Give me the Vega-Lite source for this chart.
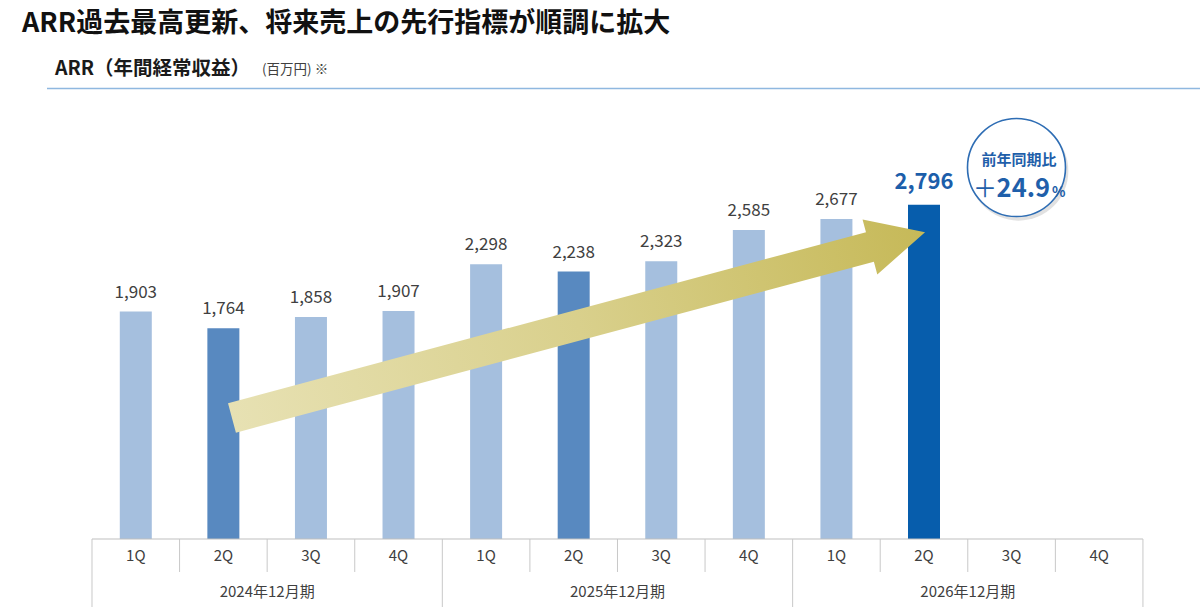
{
  "$schema": "https://vega.github.io/schema/vega-lite/v6.json",
  "description": "ARR by quarter, FY2024-FY2026, with the year-on-year growth badge",
  "width": 1153,
  "height": 523,
  "autosize": {"type": "none"},
  "padding": {"left": 47, "top": 87, "right": 0, "bottom": 0},
  "background": "white",
  "title": {
    "text": "ARR過去最高更新、将来売上の先行指標が順調に拡大",
    "anchor": "start",
    "frame": "group",
    "dx": -25,
    "offset": 21,
    "font": "Noto Sans CJK JP",
    "fontSize": 27,
    "fontWeight": "bold",
    "color": "#111111"
  },
  "config": {
    "view": {"stroke": null},
    "axis": {"disable": true},
    "font": "Noto Sans CJK JP"
  },
  "data": {
    "values": [
      {"period": "2024年12月期", "q": "1Q", "seq": 1, "arr": 1903},
      {"period": "2024年12月期", "q": "2Q", "seq": 2, "arr": 1764},
      {"period": "2024年12月期", "q": "3Q", "seq": 3, "arr": 1858},
      {"period": "2024年12月期", "q": "4Q", "seq": 4, "arr": 1907},
      {"period": "2025年12月期", "q": "1Q", "seq": 5, "arr": 2298},
      {"period": "2025年12月期", "q": "2Q", "seq": 6, "arr": 2238},
      {"period": "2025年12月期", "q": "3Q", "seq": 7, "arr": 2323},
      {"period": "2025年12月期", "q": "4Q", "seq": 8, "arr": 2585},
      {"period": "2026年12月期", "q": "1Q", "seq": 9, "arr": 2677},
      {"period": "2026年12月期", "q": "2Q", "seq": 10, "arr": 2796},
      {"period": "2026年12月期", "q": "3Q", "seq": 11, "arr": null},
      {"period": "2026年12月期", "q": "4Q", "seq": 12, "arr": null}
    ]
  },
  "layer": [
    {
      "data": {"values": [{}]},
      "mark": {"type": "rule", "color": "#8FB8E0", "strokeWidth": 1.5},
      "encoding": {
        "y": {"datum": 3770, "scale": {"domain": [-594, 3782], "nice": false, "zero": false, "padding": 0}}
      }
    },
    {
      "transform": [{"filter": "isValid(datum.arr)"}],
      "mark": {"type": "bar", "width": 32},
      "encoding": {
        "x": {"field": "seq", "type": "quantitative", "scale": {"domain": [-0.0138, 13.1514], "nice": false, "zero": false, "padding": 0}},
        "y": {"field": "arr", "type": "quantitative", "scale": {"domain": [-594, 3782], "nice": false, "zero": false, "padding": 0}},
        "color": {
          "condition": [
            {"test": "datum.period === '2026年12月期' && datum.q === '2Q'", "value": "#075DAC"},
            {"test": "datum.q === '2Q'", "value": "#5889C0"}
          ],
          "value": "#A5BFDE"
        }
      }
    },
    {
      "transform": [{"filter": "isValid(datum.arr) && !(datum.period === '2026年12月期' && datum.q === '2Q')"}],
      "mark": {"type": "text", "baseline": "alphabetic", "dy": -14, "fontSize": 17, "color": "#404040"},
      "encoding": {
        "x": {"field": "seq", "type": "quantitative", "scale": {"domain": [-0.0138, 13.1514], "nice": false, "zero": false, "padding": 0}},
        "y": {"field": "arr", "type": "quantitative", "scale": {"domain": [-594, 3782], "nice": false, "zero": false, "padding": 0}},
        "text": {"field": "arr", "type": "quantitative", "format": ","}
      }
    },
    {
      "transform": [{"filter": "datum.period === '2026年12月期' && datum.q === '2Q'"}],
      "mark": {"type": "text", "baseline": "alphabetic", "dy": -16, "fontSize": 22, "fontWeight": "bold", "color": "#1C5EAA"},
      "encoding": {
        "x": {"field": "seq", "type": "quantitative", "scale": {"domain": [-0.0138, 13.1514], "nice": false, "zero": false, "padding": 0}},
        "y": {"field": "arr", "type": "quantitative", "scale": {"domain": [-594, 3782], "nice": false, "zero": false, "padding": 0}},
        "text": {"field": "arr", "type": "quantitative", "format": ","}
      }
    },
    {
      "data": {"values": [{}]},
      "mark": {
        "type": "point",
        "filled": true,
        "opacity": 1,
        "strokeWidth": 0,
        "shape": "M-1,-0.0426L0.841,-0.0426L0.841,-0.0794L1,0L0.841,0.0794L0.841,0.0426L-1,0.0426Z",
        "size": 514806,
        "angle": 345,
        "fill": {
          "gradient": "linear",
          "x1": 0, "y1": 0, "x2": 1, "y2": 0,
          "stops": [
            {"offset": 0, "color": "#E7E1B3"},
            {"offset": 0.5, "color": "#D9D08C"},
            {"offset": 1, "color": "#C6B958"}
          ]
        }
      },
      "encoding": {
        "x": {"datum": 6.055, "scale": {"domain": [-0.0138, 13.1514], "nice": false, "zero": false, "padding": 0}},
        "y": {"datum": 1790, "scale": {"domain": [-594, 3782], "nice": false, "zero": false, "padding": 0}}
      }
    },
    {
      "data": {"values": [{}]},
      "mark": {"type": "rule", "color": "#BFBFBF", "strokeWidth": 1},
      "encoding": {
        "x": {"datum": 0.5, "scale": {"domain": [-0.0138, 13.1514], "nice": false, "zero": false, "padding": 0}},
        "x2": {"datum": 12.5},
        "y": {"datum": 0, "scale": {"domain": [-594, 3782], "nice": false, "zero": false, "padding": 0}}
      }
    },
    {
      "transform": [
        {"filter": "datum.q !== '1Q'"},
        {"calculate": "datum.seq - 0.5", "as": "edge"}
      ],
      "mark": {"type": "rule", "color": "#C8C8C8", "strokeWidth": 1},
      "encoding": {
        "x": {"field": "edge", "type": "quantitative", "scale": {"domain": [-0.0138, 13.1514], "nice": false, "zero": false, "padding": 0}},
        "y": {"datum": 0, "scale": {"domain": [-594, 3782], "nice": false, "zero": false, "padding": 0}},
        "y2": {"datum": -276}
      }
    },
    {
      "transform": [
        {"filter": "datum.q === '1Q'"},
        {"calculate": "datum.seq - 0.5", "as": "edge"}
      ],
      "mark": {"type": "rule", "color": "#C8C8C8", "strokeWidth": 1},
      "encoding": {
        "x": {"field": "edge", "type": "quantitative", "scale": {"domain": [-0.0138, 13.1514], "nice": false, "zero": false, "padding": 0}},
        "y": {"datum": 0, "scale": {"domain": [-594, 3782], "nice": false, "zero": false, "padding": 0}},
        "y2": {"datum": -569}
      }
    },
    {
      "data": {"values": [{}]},
      "mark": {"type": "rule", "color": "#C8C8C8", "strokeWidth": 1},
      "encoding": {
        "x": {"datum": 12.5, "scale": {"domain": [-0.0138, 13.1514], "nice": false, "zero": false, "padding": 0}},
        "y": {"datum": 0, "scale": {"domain": [-594, 3782], "nice": false, "zero": false, "padding": 0}},
        "y2": {"datum": -569}
      }
    },
    {
      "mark": {"type": "text", "baseline": "middle", "fontSize": 15, "color": "#404040"},
      "encoding": {
        "x": {"field": "seq", "type": "quantitative", "scale": {"domain": [-0.0138, 13.1514], "nice": false, "zero": false, "padding": 0}},
        "y": {"datum": -142, "scale": {"domain": [-594, 3782], "nice": false, "zero": false, "padding": 0}},
        "text": {"field": "q"}
      }
    },
    {
      "transform": [
        {"aggregate": [{"op": "mean", "field": "seq", "as": "mid"}], "groupby": ["period"]}
      ],
      "mark": {"type": "text", "baseline": "middle", "fontSize": 15, "color": "#404040"},
      "encoding": {
        "x": {"field": "mid", "type": "quantitative", "scale": {"domain": [-0.0138, 13.1514], "nice": false, "zero": false, "padding": 0}},
        "y": {"datum": -443, "scale": {"domain": [-594, 3782], "nice": false, "zero": false, "padding": 0}},
        "text": {"field": "period"}
      }
    },
    {
      "data": {"values": [{}]},
      "mark": {"type": "point", "shape": "circle", "filled": true, "size": 9900, "color": "#9A9A9A", "opacity": 0.3, "strokeWidth": 0},
      "encoding": {
        "x": {"datum": 11.08, "scale": {"domain": [-0.0138, 13.1514], "nice": false, "zero": false, "padding": 0}},
        "y": {"datum": 3080, "scale": {"domain": [-594, 3782], "nice": false, "zero": false, "padding": 0}}
      }
    },
    {
      "data": {"values": [{}]},
      "mark": {"type": "point", "shape": "circle", "filled": false, "size": 9604, "fill": "white", "fillOpacity": 1, "stroke": "#2E6DB4", "strokeWidth": 1.6, "opacity": 1},
      "encoding": {
        "x": {"datum": 11.056, "scale": {"domain": [-0.0138, 13.1514], "nice": false, "zero": false, "padding": 0}},
        "y": {"datum": 3108, "scale": {"domain": [-594, 3782], "nice": false, "zero": false, "padding": 0}}
      }
    },
    {
      "data": {"values": [{"label": "前年同期比"}]},
      "mark": {"type": "text", "baseline": "middle", "fontSize": 15, "fontWeight": "bold", "color": "#1F5FAA"},
      "encoding": {
        "x": {"datum": 11.085, "scale": {"domain": [-0.0138, 13.1514], "nice": false, "zero": false, "padding": 0}},
        "y": {"datum": 3170, "scale": {"domain": [-594, 3782], "nice": false, "zero": false, "padding": 0}},
        "text": {"field": "label"}
      }
    },
    {
      "data": {"values": [{"label": "＋"}]},
      "mark": {"type": "text", "baseline": "alphabetic", "align": "center", "dx": -34, "fontSize": 24, "fontWeight": "normal", "color": "#1F5FAA"},
      "encoding": {
        "x": {"datum": 11.085, "scale": {"domain": [-0.0138, 13.1514], "nice": false, "zero": false, "padding": 0}},
        "y": {"datum": 2861, "scale": {"domain": [-594, 3782], "nice": false, "zero": false, "padding": 0}},
        "text": {"field": "label"}
      }
    },
    {
      "data": {"values": [{"label": "24.9"}]},
      "mark": {"type": "text", "baseline": "alphabetic", "align": "right", "dx": 31, "fontSize": 25.5, "fontWeight": "bold", "color": "#1F5FAA"},
      "encoding": {
        "x": {"datum": 11.085, "scale": {"domain": [-0.0138, 13.1514], "nice": false, "zero": false, "padding": 0}},
        "y": {"datum": 2861, "scale": {"domain": [-594, 3782], "nice": false, "zero": false, "padding": 0}},
        "text": {"field": "label"}
      }
    },
    {
      "data": {"values": [{"label": "%"}]},
      "mark": {"type": "text", "baseline": "alphabetic", "align": "left", "dx": 33, "fontSize": 14, "fontWeight": "bold", "color": "#1F5FAA"},
      "encoding": {
        "x": {"datum": 11.085, "scale": {"domain": [-0.0138, 13.1514], "nice": false, "zero": false, "padding": 0}},
        "y": {"datum": 2861, "scale": {"domain": [-594, 3782], "nice": false, "zero": false, "padding": 0}},
        "text": {"field": "label"}
      }
    },
    {
      "data": {"values": [{"label": "ARR（年間経常収益）"}]},
      "mark": {"type": "text", "baseline": "middle", "align": "left", "fontSize": 19.5, "fontWeight": "bold", "color": "#1A1A1A"},
      "encoding": {
        "x": {"datum": 0.0775, "scale": {"domain": [-0.0138, 13.1514], "nice": false, "zero": false, "padding": 0}},
        "y": {"datum": 3935, "scale": {"domain": [-594, 3782], "nice": false, "zero": false, "padding": 0}},
        "text": {"field": "label"}
      }
    },
    {
      "data": {"values": [{"label": "(百万円) ※"}]},
      "mark": {"type": "text", "baseline": "middle", "align": "left", "fontSize": 13.5, "color": "#404040"},
      "encoding": {
        "x": {"datum": 2.441, "scale": {"domain": [-0.0138, 13.1514], "nice": false, "zero": false, "padding": 0}},
        "y": {"datum": 3924, "scale": {"domain": [-594, 3782], "nice": false, "zero": false, "padding": 0}},
        "text": {"field": "label"}
      }
    }
  ]
}
